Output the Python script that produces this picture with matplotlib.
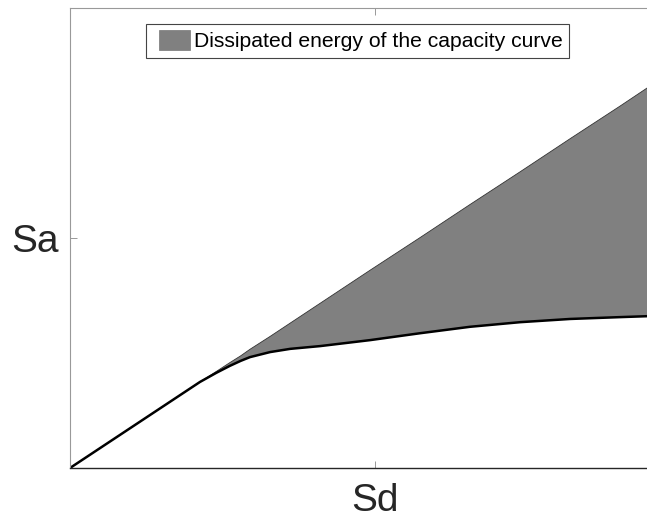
import matplotlib
matplotlib.use('Agg')
import matplotlib.pyplot as plt
import matplotlib.patches as mpatches
from matplotlib.legend_handler import HandlerPatch
import numpy as np

# capacity curve (Sd, Sa in axis units 0..1)
sd = [0.0, 0.213, 0.240, 0.262, 0.280, 0.295, 0.328, 0.361, 0.410, 0.492,
      0.574, 0.656, 0.738, 0.820, 0.902, 0.946, 1.0]
sa_curve = [0.0, 0.187, 0.207, 0.222, 0.233, 0.241, 0.252, 0.259, 0.265, 0.278,
            0.293, 0.307, 0.317, 0.324, 0.328, 0.330, 0.331]
# elastic branch extended (upper edge of the shaded area)
sa_elastic = [0.0, 0.187, 0.210, 0.229, 0.244, 0.258, 0.286, 0.315, 0.358, 0.430,
              0.501, 0.573, 0.644, 0.716, 0.787, 0.826, 0.873]
legend_label = 'Dissipated energy of the capacity curve'

plt.rcParams['font.family'] = ['Liberation Sans', 'DejaVu Sans']

fig = plt.figure(figsize=(6.47, 5.2), dpi=100)
ax = fig.add_axes([70 / 647, 52 / 520, 610 / 647, 460 / 520])

ax.fill_between(sd, sa_curve, sa_elastic, facecolor='#808080', edgecolor='none')
ax.plot(sd, sa_elastic, color='#333333', lw=0.6)
ax.plot(sd, sa_curve, color='black', lw=1.8)

ax.set_xlim(0, 1)
ax.set_ylim(0, 1)
ax.set_xticks([0.5])
ax.set_xticklabels(['Sd'])
ax.set_yticks([0.5])
ax.set_yticklabels(['Sa'])
ax.tick_params(direction='in', length=5, width=0.6, colors='#888888',
               labelcolor='#262626', labelsize=28, top=True, right=True)
ax.tick_params(axis='x', pad=11)
ax.tick_params(axis='y', pad=8)

for side in ['left', 'top', 'right']:
    ax.spines[side].set_color('#999999')
    ax.spines[side].set_linewidth(0.8)
ax.spines['bottom'].set_color('#262626')
ax.spines['bottom'].set_linewidth(1.0)


# legend swatch sits at the right of its slot, like the original
def swatch(legend, orig_handle, xdescent, ydescent, width, height, fontsize):
    w = 22.3
    return mpatches.Rectangle((width - w - xdescent, -ydescent), w, height)


proxy = mpatches.Patch(facecolor='#808080', edgecolor='#777777', linewidth=0.5)
leg = ax.legend([proxy], [legend_label], loc='upper left',
                bbox_to_anchor=(146 / 647, 1 - 24 / 520),
                bbox_transform=fig.transFigure, borderaxespad=0, fontsize=15.2,
                fancybox=False, framealpha=1, edgecolor='#444444',
                handlelength=1.8, handleheight=1.05, handletextpad=0.15,
                borderpad=0.3,
                handler_map={mpatches.Patch: HandlerPatch(patch_func=swatch)})
leg.get_frame().set_linewidth(0.8)

fig.savefig('out.png', dpi=100)
